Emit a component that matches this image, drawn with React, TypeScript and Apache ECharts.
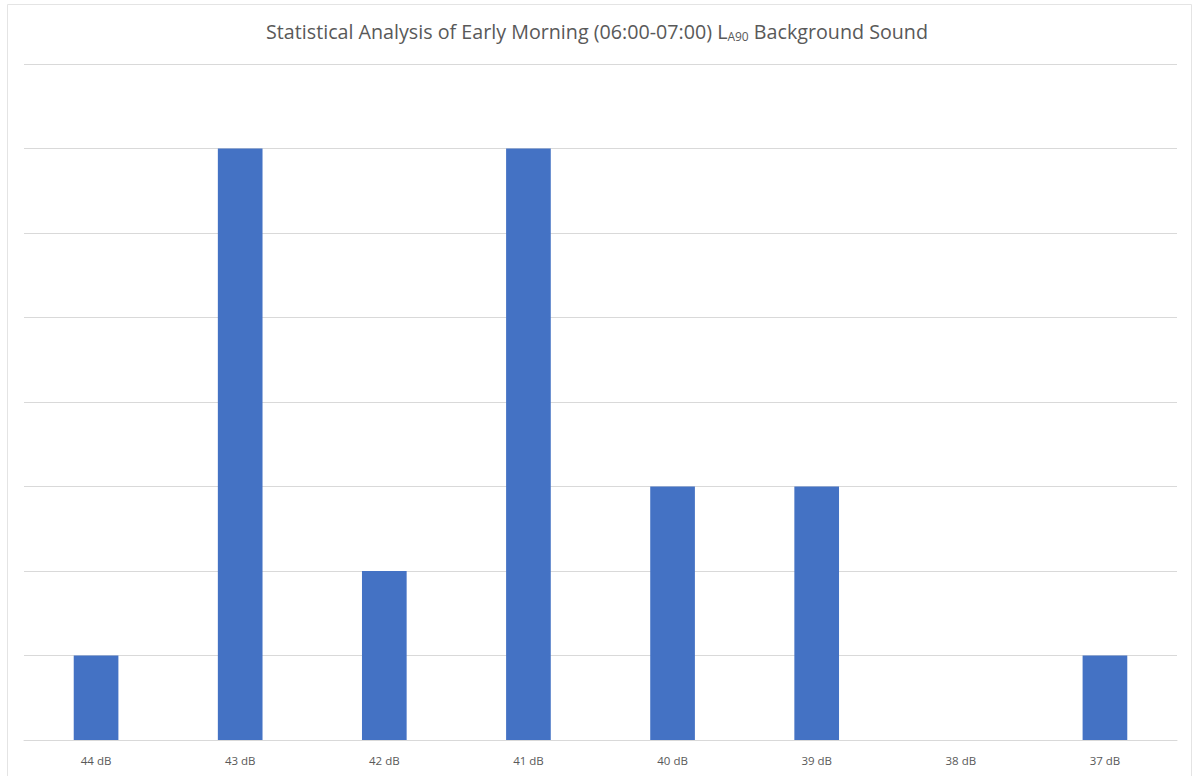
import React, { useEffect, useRef } from "react";
import * as echarts from "echarts";

const categories = ["44 dB", "43 dB", "42 dB", "41 dB", "40 dB", "39 dB", "38 dB", "37 dB"];
const counts = [1, 7, 2, 7, 3, 3, 0, 1];
const yMax = 8;
const yInterval = 1;

export default function App() {
  const ref = useRef<HTMLDivElement>(null);
  useEffect(() => {
    if (!ref.current) return;
    const chart = echarts.init(ref.current, null, { renderer: "svg" });
    chart.setOption({
      animation: false,
      backgroundColor: "#ffffff",
      title: {
        text: "Statistical Analysis of Early Morning (06:00-07:00) L{sub|A90} Background Sound",
        left: "center",
        top: 16,
        textStyle: {
          fontFamily: "Open Sans",
          fontSize: 19.7,
          fontWeight: "normal",
          color: "#595959",
          rich: {
            sub: {
              fontFamily: "Open Sans",
              fontSize: 12,
              color: "#595959",
              verticalAlign: "bottom",
              padding: [9, 0, 0, 0],
            },
          },
        },
      },
      graphic: [
        {
          type: "rect",
          shape: { x: 7.5, y: 4.5, width: 1184, height: 790 },
          style: { fill: "none", stroke: "#e4e4e4", lineWidth: 1 },
          silent: true,
        },
      ],
      grid: { left: 24, right: 17, top: 64, bottom: 36, containLabel: false },
      xAxis: {
        type: "category",
        data: categories,
        axisLine: { show: true, lineStyle: { color: "#d9d9d9", width: 1 } },
        axisTick: { show: false },
        axisLabel: {
          color: "#595959",
          fontFamily: "Open Sans",
          fontSize: 11.5,
          margin: 14,
        },
      },
      yAxis: {
        type: "value",
        min: 0,
        max: yMax,
        interval: yInterval,
        axisLine: { show: false },
        axisTick: { show: false },
        axisLabel: { show: false },
        splitLine: { show: true, lineStyle: { color: "#d9d9d9", width: 1 } },
      },
      series: [
        {
          type: "bar",
          data: counts,
          barWidth: "31%",
          itemStyle: { color: "#4472C4" },
        },
      ],
    });
    return () => chart.dispose();
  }, []);
  return (
    <div
      ref={ref}
      style={{ position: "absolute", left: 0, top: 0, width: 1194, height: 776 }}
    />
  );
}
